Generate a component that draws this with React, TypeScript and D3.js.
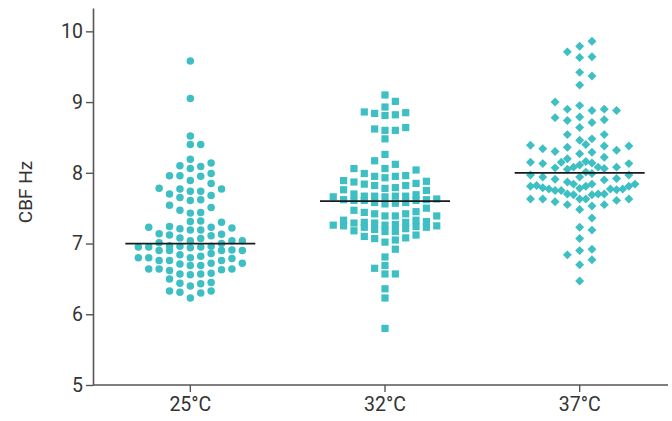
import React, { useEffect, useRef } from 'react';
import * as d3 from 'd3';

const categories = ['25°C', '32°C', '37°C'];
const yTicks = [5, 6, 7, 8, 9, 10];
const medians = [7.0, 7.6, 8.0];

// CBF values, one list per temperature
const cbf25 = [
  9.58, 9.05, 8.52, 8.4, 8.4, 8.19, 8.06, 8.1, 8.09, 8.14, 7.99, 7.96, 7.95, 7.96, 7.89, 7.85,
  7.74, 7.7, 7.78, 7.77, 7.77, 7.74, 7.68, 7.65, 7.61, 7.62, 7.51, 7.44, 7.43, 7.47, 7.54,
  7.3, 7.31, 7.32, 7.24, 7.23, 7.19, 7.19, 7.21, 7.22, 7.23, 7.13, 7.11, 7.14, 7.12, 7.07, 7.08,
  7.04, 7.0, 7.01, 7.04, 7.04, 6.96, 6.94, 6.95, 6.95, 6.97, 6.96, 6.95, 6.91, 6.9, 6.9, 6.9, 6.9,
  6.86, 6.84, 6.8, 6.79, 6.8, 6.8, 6.82, 6.76, 6.76, 6.76, 6.72, 6.64, 6.64, 6.71, 6.69, 6.63,
  6.64, 6.69, 6.72, 6.62, 6.58, 6.56, 6.57, 6.57, 6.5, 6.45, 6.44, 6.43, 6.4, 6.33, 6.3, 6.31,
  6.33, 6.23,
];
const cbf32 = [
  9.1, 9.01, 8.93, 8.86, 8.84, 8.81, 8.82, 8.85, 8.6, 8.64, 8.6, 8.62, 8.48, 8.26, 8.17, 8.12,
  8.06, 7.99, 8.04, 8.06, 7.95, 7.93, 7.88, 7.85, 7.82, 7.82, 7.79, 7.84, 7.87, 7.89, 7.95, 7.96,
  7.76, 7.75, 7.78, 7.69, 7.67, 7.66, 7.66, 7.67, 7.67, 7.67, 7.7, 7.61, 7.62, 7.61, 7.58, 7.56,
  7.57, 7.58, 7.61, 7.63, 7.62, 7.47, 7.44, 7.42, 7.39, 7.5, 7.39, 7.39, 7.42, 7.45, 7.33, 7.29,
  7.3, 7.33, 7.25, 7.31, 7.23, 7.29, 7.18, 7.3, 7.23, 7.26, 7.2, 7.17, 7.21, 7.24, 7.25, 7.12,
  7.27, 7.17, 7.26, 7.1, 7.07, 7.02, 7.05, 7.08, 6.92, 6.81, 6.69, 6.65, 6.57, 6.57, 6.36, 6.23,
  5.8,
];
const cbf37 = [
  9.86, 9.79, 9.71, 9.64, 9.63, 9.42, 9.37, 9.24, 9.0, 8.95, 8.9, 8.88, 8.88, 8.9, 8.79, 8.74,
  8.71, 8.75, 8.78, 8.64, 8.54, 8.54, 8.48, 8.46, 8.4, 8.39, 8.38, 8.36, 8.32, 8.29, 8.22, 8.27,
  8.3, 8.34, 8.38, 8.15, 8.2, 8.14, 8.11, 8.16, 8.08, 8.15, 8.05, 8.06, 8.07, 8.08, 8.08, 8.13,
  8.13, 7.99, 7.97, 7.92, 7.91, 7.87, 8.01, 7.9, 7.94, 7.94, 7.97, 7.84, 7.82, 7.77, 7.79, 7.81,
  7.84, 7.84, 7.81, 7.76, 7.81, 7.75, 7.78, 7.7, 7.77, 7.7, 7.69, 7.7, 7.69, 7.75, 7.77, 7.63,
  7.63, 7.59, 7.63, 7.63, 7.61, 7.63, 7.53, 7.55, 7.55, 7.48, 7.36, 7.23, 7.19, 7.07, 6.9, 6.92,
  6.84, 6.77, 6.7, 6.47,
];
const series = [cbf25, cbf32, cbf37];

const W = 672;
const H = 421;
const TEAL = '#3dbfc3';
const FONT = 'Roboto, "Noto Sans", sans-serif';

// column layout: each point goes to the nearest free column next to the centre
function swarm(values: number[], yPx: (v: number) => number, gap: number, maxK: number, half: boolean) {
  const cols = new Map<number, number[]>();
  const cand: number[] = [0];
  for (let k = 1; k <= maxK; k++) cand.push(k, -k);
  if (half) for (let k = 0.5; k <= maxK + 0.5; k += 1) cand.push(k, -k);
  const out: { v: number; k: number }[] = [];
  [...values].sort(d3.ascending).forEach((v) => {
    const y = yPx(v);
    const clear = (k: number) => {
      const ys = cols.get(k) || [];
      return ys.length ? d3.min(ys, (o) => Math.abs(o - y))! : Infinity;
    };
    let pick = cand.find((k) => clear(k) >= gap);
    if (pick === undefined) pick = cand.reduce((a, b) => (clear(b) > clear(a) ? b : a));
    if (!cols.has(pick)) cols.set(pick, []);
    cols.get(pick)!.push(y);
    out.push({ v, k: pick });
  });
  return out;
}

export default function App() {
  const ref = useRef<SVGSVGElement>(null);

  useEffect(() => {
    const svg = d3.select(ref.current);
    svg.selectAll('*').remove();

    const y = d3.scaleLinear().domain([5, 10.33]).range([385, 8]);
    const x = d3.scaleBand().domain(categories).range([93, 677]);
    const cx = (c: string) => x(c)! + x.bandwidth() / 2;

    // y axis
    const ya = svg.append('g').attr('transform', 'translate(93,0)')
      .call(d3.axisLeft(y).tickValues(yTicks).tickSize(7).tickSizeOuter(0).tickPadding(3).tickFormat(d3.format('d')));
    ya.select('.domain').attr('stroke', '#555').attr('stroke-width', 1.6);
    ya.selectAll('.tick line').attr('stroke', '#555').attr('stroke-width', 1.4);
    ya.selectAll('.tick text').attr('fill', '#333').style('font-family', FONT).style('font-size', '19.5px');

    // x axis
    const xa = svg.append('g').attr('transform', 'translate(0,385)')
      .call(d3.axisBottom(x).tickSize(7).tickSizeOuter(0).tickPadding(5));
    xa.select('.domain').attr('d', 'M93,0H668').attr('stroke', '#555').attr('stroke-width', 1.6);
    xa.selectAll('.tick line').attr('stroke', '#555').attr('stroke-width', 1.4);
    xa.selectAll('.tick text').attr('fill', '#333').style('font-family', FONT).style('font-size', '19.5px');

    svg.append('text')
      .attr('transform', 'translate(32,192) rotate(-90)')
      .attr('text-anchor', 'middle')
      .attr('fill', '#333')
      .style('font-family', FONT)
      .style('font-size', '19px')
      .text('CBF Hz');

    const shapes = [d3.symbolCircle, d3.symbolSquare, d3.symbolSquare];
    const sizes = [44, 52, 40];
    const steps = [10.4, 10.35, 12.3];
    const gaps = [8.2, 8.2, 10];
    const widths = [5, 5, 4];

    series.forEach((vals, i) => {
      const c = categories[i];
      const pts = swarm(vals, y, gaps[i], widths[i], i === 2);
      const sym = d3.symbol().type(shapes[i]).size(sizes[i]);
      svg.append('g').selectAll('path').data(pts).enter().append('path')
        .attr('d', sym)
        .attr('fill', TEAL)
        .attr('transform', (d) => `translate(${cx(c) + d.k * steps[i]},${y(d.v)})` + (i === 2 ? ' rotate(45)' : ''));

      svg.append('line')
        .attr('x1', cx(c) - 65).attr('x2', cx(c) + 65)
        .attr('y1', y(medians[i])).attr('y2', y(medians[i]))
        .attr('stroke', '#1a1a1a').attr('stroke-width', 1.8);
    });
  }, []);

  return <svg ref={ref} width={W} height={H} style={{ position: 'absolute', left: 0, top: 0, background: '#fff' }} />;
}
